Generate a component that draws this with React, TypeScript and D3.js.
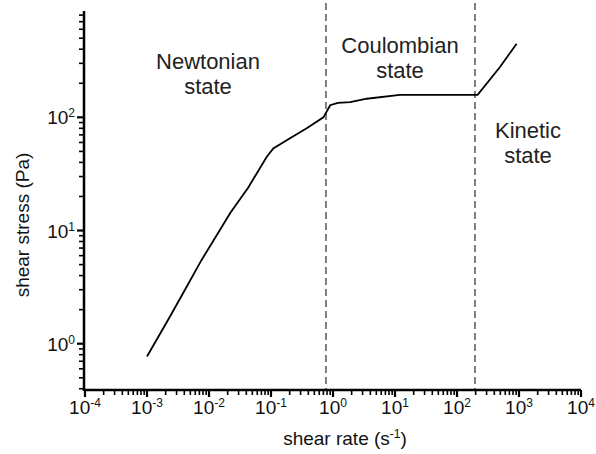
import * as d3 from "d3";

// rheology curve
const shearRate = [0.001, 0.00235, 0.0041, 0.0076, 0.015, 0.022, 0.043, 0.085, 0.109, 0.179, 0.377, 0.7, 0.9, 1.2, 1.9, 3.5, 12, 17.5, 195, 215, 490, 915];
const shearStress = [0.77, 1.74, 3.0, 5.5, 10.1, 14.3, 24, 44.7, 53, 62.7, 80, 100, 128, 134, 136, 146, 158, 158, 158, 158, 277, 446];

// boundaries between the states
const transitions = [0.77, 195];

const xTickExps = [-4, -3, -2, -1, 0, 1, 2, 3, 4];
const yTickExps = [0, 1, 2];

const stateLabels = [
  { lines: ["Newtonian", "state"], x: 208, y: 69 },
  { lines: ["Coulombian", "state"], x: 400, y: 53 },
  { lines: ["Kinetic", "state"], x: 528, y: 138 },
];

const W = 596;
const H = 454;
const left = 85;
const right = 581;
const top = 11;
const bottom = 390;

const font = "'Liberation Sans', Arial, sans-serif";

const App = () => {
  const x = d3.scaleLog().domain([1e-4, 1e4]).range([left, right]);
  const y = d3.scaleLog().domain([0.39, 870]).range([bottom, top]);

  const line = d3
    .line<number>()
    .x((d) => x(d))
    .y((_, i) => y(shearStress[i]));

  // minor ticks 2..9 in every decade
  const minorX: number[] = [];
  for (let e = -4; e < 4; e++) for (let m = 2; m <= 9; m++) minorX.push(m * Math.pow(10, e));
  const minorY: number[] = [];
  for (let e = -1; e < 3; e++)
    for (let m = 1; m <= 9; m++) {
      const v = m * Math.pow(10, e);
      if (v >= 0.39 && v <= 870 && !(m === 1 && e >= 0)) minorY.push(v);
    }

  return (
    <svg
      width={W}
      height={H}
      style={{ position: "absolute", left: 0, top: 0, background: "#fff" }}
      fontFamily={font}
    >
      {/* transition lines */}
      {transitions.map((t) => (
        <line
          key={t}
          x1={x(t)}
          x2={x(t)}
          y1={3}
          y2={bottom}
          stroke="#7f7f7f"
          strokeWidth={2}
          strokeDasharray="7,4"
        />
      ))}

      {/* curve */}
      <path d={line(shearRate) ?? ""} fill="none" stroke="#000" strokeWidth={1.8} />

      {/* x axis */}
      <line x1={left - 1} x2={right} y1={bottom} y2={bottom} stroke="#000" strokeWidth={2.5} />
      {minorX.map((v) => (
        <line key={v} x1={x(v)} x2={x(v)} y1={bottom} y2={bottom + 5} stroke="#000" strokeWidth={1.6} />
      ))}
      {xTickExps.map((e) => (
        <g key={e}>
          <line x1={x(Math.pow(10, e))} x2={x(Math.pow(10, e))} y1={bottom} y2={bottom + 7} stroke="#000" strokeWidth={2.2} />
          <text x={x(Math.pow(10, e))} y={bottom + 24} fontSize={19} textAnchor="middle" fill="#111">
            10<tspan fontSize={12} dy={-7}>{e}</tspan>
          </text>
        </g>
      ))}

      {/* y axis */}
      <line x1={left - 1} x2={left - 1} y1={top} y2={bottom + 1} stroke="#000" strokeWidth={2.5} />
      {minorY.map((v) => (
        <line key={v} x1={left - 6} x2={left - 1} y1={y(v)} y2={y(v)} stroke="#000" strokeWidth={1.6} />
      ))}
      {yTickExps.map((e) => (
        <g key={e}>
          <line x1={left - 8} x2={left - 1} y1={y(Math.pow(10, e))} y2={y(Math.pow(10, e))} stroke="#000" strokeWidth={2.2} />
          <text x={left - 10} y={y(Math.pow(10, e)) + 7} fontSize={19} textAnchor="end" fill="#111">
            10<tspan fontSize={12} dy={-7}>{e}</tspan>
          </text>
        </g>
      ))}

      {/* axis titles */}
      <text x={345} y={445} fontSize={19} textAnchor="middle" fill="#111">
        shear rate (s<tspan fontSize={12} dy={-7}>-1</tspan>
        <tspan dy={7}>)</tspan>
      </text>
      <text
        transform={`translate(29,${(148 + 302) / 2}) rotate(-90)`}
        fontSize={19}
        textAnchor="middle"
        fill="#111"
      >
        shear stress (Pa)
      </text>

      {/* state annotations */}
      {stateLabels.map((s) => (
        <text key={s.lines[0]} x={s.x} y={s.y} fontSize={22} textAnchor="middle" fill="#222">
          {s.lines.map((l, i) => (
            <tspan key={l} x={s.x} dy={i === 0 ? 0 : 25}>
              {l}
            </tspan>
          ))}
        </text>
      ))}
    </svg>
  );
};

export default App;
